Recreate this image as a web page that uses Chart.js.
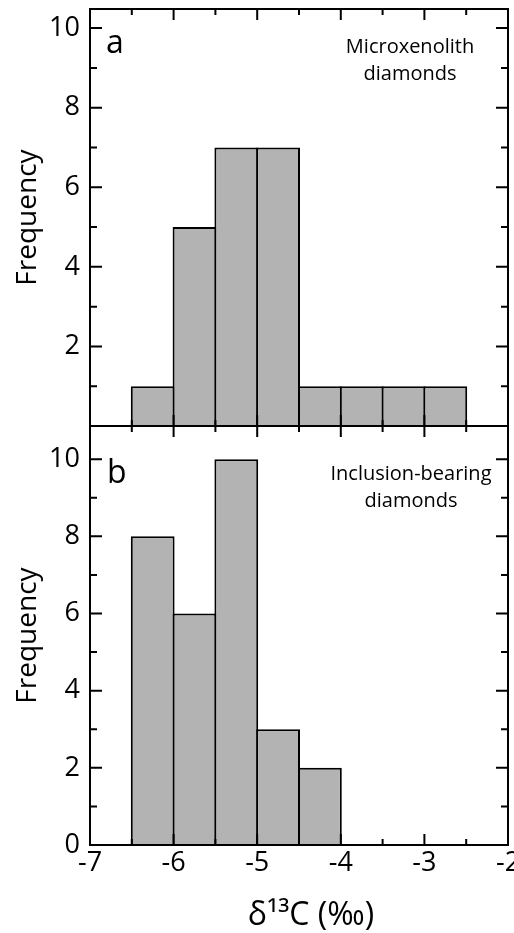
<!DOCTYPE html>
<html>
<head>
  <meta charset="utf-8">
  <title>Diamond δ13C histograms</title>
  <script src="https://cdn.jsdelivr.net/npm/chart.js"></script>
  <style>
    body { margin: 0; background: #fff; }
    #wrap { position: relative; width: 514px; height: 933px; overflow: hidden; }
    canvas { position: absolute; left: 0; }
    #chartA { top: 0; }
    #chartB { top: 420px; }
  </style>
</head>
<body>
  <div id="wrap">
    <canvas id="chartA" width="514" height="432"></canvas>
    <canvas id="chartB" width="514" height="513"></canvas>
  </div>

  <script>
    // histogram bins: lower edge of each 0.5 ‰ bin and its count
    const binWidth = 0.5;
    const binsA = [-6.5, -6, -5.5, -5, -4.5, -4, -3.5, -3];
    const countsA = [1, 5, 7, 7, 1, 1, 1, 1];
    const binsB = [-6.5, -6, -5.5, -5, -4.5];
    const countsB = [8, 6, 10, 3, 2];

    // axis ticks
    const xTicks = [-7, -6, -5, -4, -3, -2];
    const xMinorTicks = [-6.5, -5.5, -4.5, -3.5, -2.5];
    const yTicksA = [2, 4, 6, 8, 10];
    const yTicksB = [0, 2, 4, 6, 8, 10];
    const yMajorTicks = [0, 2, 4, 6, 8, 10];
    const yMinorTicks = [1, 3, 5, 7, 9];

    const xTitle = 'δ¹³C (‰)';

    const FONT = '"Open Sans", sans-serif';
    Chart.defaults.font.family = FONT;
    Chart.defaults.color = '#000';

    // box around the plot, inward ticks on all four sides, panel text
    const framePlugin = {
      id: 'frame',
      afterDatasetsDraw(chart, args, opts) {
        const { ctx, chartArea: a, scales: { x, y } } = chart;
        ctx.save();
        ctx.strokeStyle = '#000';
        ctx.lineWidth = 2;
        ctx.beginPath();
        const xt = (vals, len) => vals.forEach(v => {
          const p = x.getPixelForValue(v);
          ctx.moveTo(p, a.top); ctx.lineTo(p, a.top + len);
          ctx.moveTo(p, a.bottom); ctx.lineTo(p, a.bottom - len);
        });
        const yt = (vals, len) => vals.forEach(v => {
          const p = y.getPixelForValue(v);
          ctx.moveTo(a.left, p); ctx.lineTo(a.left + len, p);
          ctx.moveTo(a.right, p); ctx.lineTo(a.right - len, p);
        });
        xt(xTicks, 11);
        xt(xMinorTicks, 6);
        yt(yMajorTicks, 12);
        yt(yMinorTicks, 7);
        ctx.stroke();
        ctx.strokeRect(a.left, a.top, a.right - a.left, a.bottom - a.top);

        ctx.fillStyle = '#000';
        ctx.textBaseline = 'alphabetic';
        ctx.textAlign = 'left';
        ctx.font = '32px ' + FONT;
        ctx.fillText(opts.letter, opts.letterX, opts.letterY);
        ctx.textAlign = 'center';
        ctx.font = '20px ' + FONT;
        opts.caption.forEach((line, i) => {
          ctx.fillText(line, opts.captionX, opts.captionY + i * 27);
        });

        // axis title under the bottom panel
        if (opts.xTitle) {
          ctx.font = '32px ' + FONT;
          ctx.textBaseline = 'middle';
          ctx.fillText(opts.xTitle, opts.xTitleX, opts.xTitleY);
        }
        ctx.restore();
      }
    };

    function makeChart(id, bins, counts, yTicks, yMax, showX, padding, panel) {
      return new Chart(document.getElementById(id), {
        type: 'bar',
        data: {
          datasets: [{
            data: bins.map((b, i) => ({ x: b + binWidth / 2, y: counts[i] })),
            backgroundColor: '#b3b3b3',
            borderColor: '#000',
            borderWidth: { top: 2, left: 2, right: 2, bottom: 0 },
            borderSkipped: 'start',
            // bars overlap by the border width so shared edges form one 2px line
            barPercentage: 1.048,
            categoryPercentage: 1
          }]
        },
        options: {
          responsive: false,
          animation: false,
          devicePixelRatio: 1,
          layout: { padding },
          plugins: {
            legend: { display: false },
            tooltip: { enabled: false },
            frame: panel
          },
          scales: {
            x: {
              type: 'linear',
              min: -7,
              max: -2,
              offset: false,
              display: showX,
              afterBuildTicks: s => { s.ticks = xTicks.map(v => ({ value: v })); },
              grid: { display: false, drawTicks: false, offset: false },
              border: { display: false },
              ticks: { font: { size: 27 }, color: '#000', padding: 2, maxRotation: 0, autoSkip: false },
              title: { display: false },
              afterFit: s => {
                if (showX) s.height = 88;
                s.paddingLeft = 0; s.paddingRight = 0;
              }
            },
            y: {
              min: 0,
              max: yMax,
              afterBuildTicks: s => { s.ticks = yTicks.map(v => ({ value: v })); },
              grid: { display: false, drawTicks: false },
              border: { display: false },
              ticks: { font: { size: 27 }, color: '#000', padding: 10 },
              title: {
                display: true,
                text: 'Frequency',
                font: { size: 28 },
                color: '#000',
                padding: { top: 11, bottom: 0 }
              },
              afterFit: s => {
                s.width = 90;
                s.paddingTop = 0; s.paddingBottom = 0;
              }
            }
          }
        },
        plugins: [framePlugin]
      });
    }

    makeChart('chartA', binsA, countsA, yTicksA, 10.48, false,
      { left: 0, right: 6, top: 9, bottom: 6 },
      { letter: 'a', letterX: 106, letterY: 53,
        caption: ['Microxenolith', 'diamonds'], captionX: 410, captionY: 53 });

    makeChart('chartB', binsB, countsB, yTicksB, 10.86, true,
      { left: 0, right: 6, top: 6, bottom: 0 },
      { letter: 'b', letterX: 107, letterY: 63,
        caption: ['Inclusion-bearing', 'diamonds'], captionX: 411, captionY: 60,
        xTitle, xTitleX: 311, xTitleY: 496 });
  </script>
</body>
</html>
